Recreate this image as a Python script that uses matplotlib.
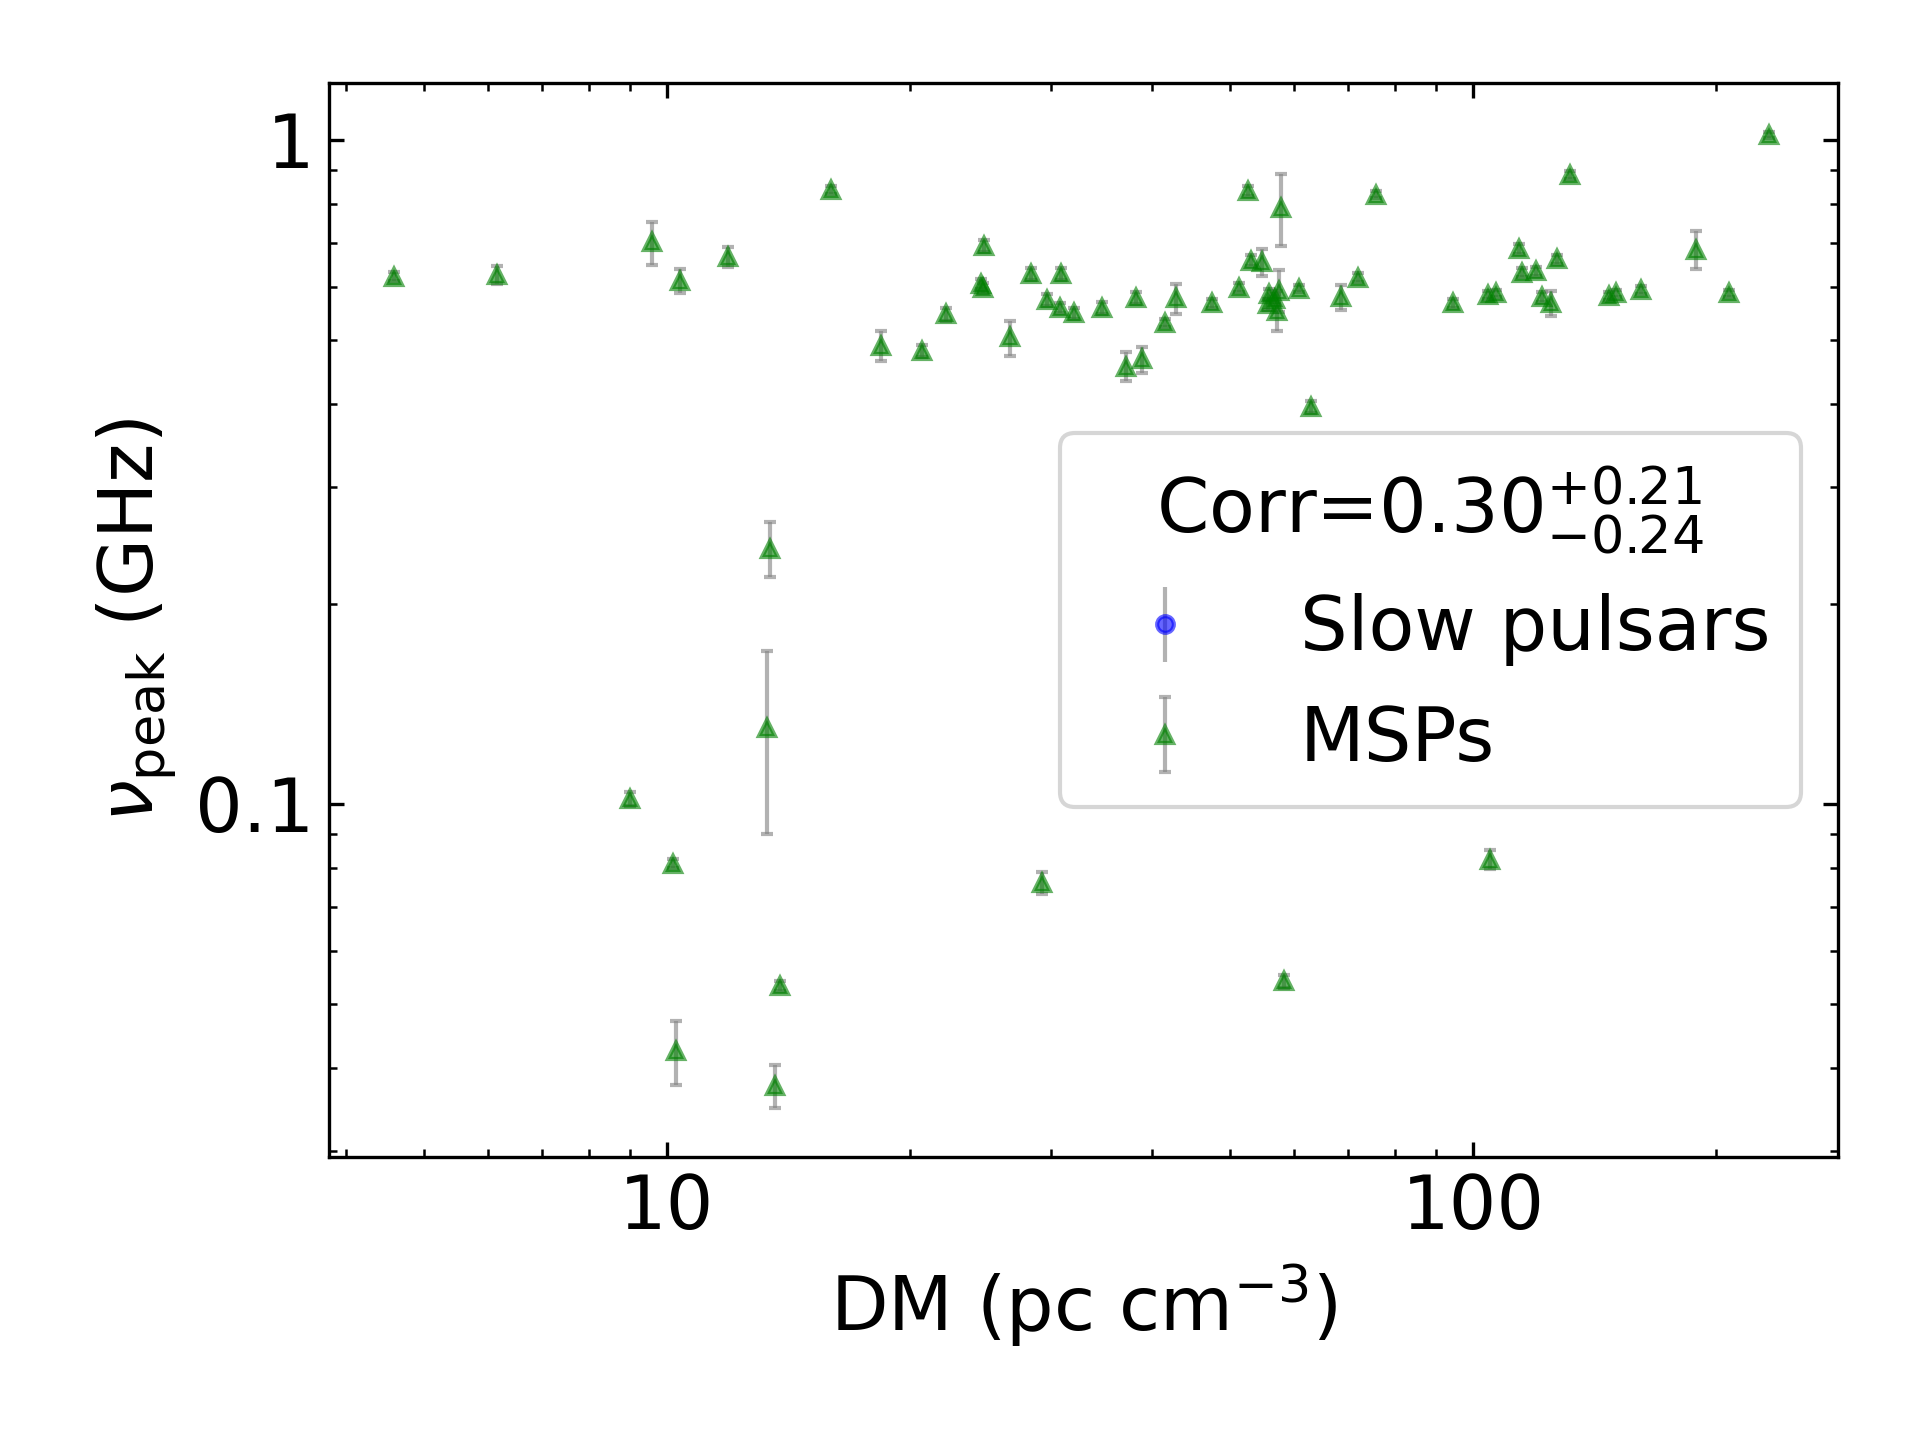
import numpy as np
import matplotlib
matplotlib.use("Agg")
import matplotlib.pyplot as plt
from matplotlib.ticker import FixedLocator, FixedFormatter, NullFormatter

# MSPs: DM (pc cm^-3), peak frequency (GHz) and asymmetric errors
dm_msp = [4.58, 6.15, 9.59, 10.39, 11.91, 15.98, 18.45, 20.71, 22.21, 24.50,
          24.70, 24.75, 26.64, 28.28, 29.60, 30.87, 30.75, 31.97, 34.64, 37.15,
          38.88, 38.20, 41.55, 42.88, 47.46, 51.26, 52.54, 53.09, 54.79, 55.87,
          57.43, 55.62, 56.77, 57.17, 57.74, 60.85, 63.02, 68.55, 71.97, 75.85,
          94.56, 104.3, 106.9, 114.2, 115.0, 119.9, 121.7, 125.1, 127.3, 131.9,
          147.5, 150.6, 161.6, 189.1, 207.8, 233.3,
          13.42, 13.32, 9.01, 10.18, 13.80, 10.25, 13.61, 29.18, 58.35, 105.0]
nu_msp = [0.622, 0.625, 0.701, 0.612, 0.666, 0.841, 0.489, 0.481, 0.546, 0.607,
          0.598, 0.692, 0.504, 0.628, 0.574, 0.628, 0.558, 0.548, 0.558, 0.455,
          0.467, 0.577, 0.530, 0.577, 0.567, 0.599, 0.837, 0.658, 0.655, 0.586,
          0.592, 0.565, 0.575, 0.552, 0.789, 0.597, 0.396, 0.579, 0.620, 0.827,
          0.567, 0.584, 0.587, 0.686, 0.631, 0.634, 0.580, 0.568, 0.661, 0.885,
          0.582, 0.587, 0.594, 0.683, 0.587, 1.017,
          0.242, 0.130, 0.1017, 0.0813, 0.0532, 0.0425, 0.0376, 0.0760, 0.0541, 0.0823]
err_lo = [0.010, 0.018, 0.054, 0.024, 0.022, 0.012, 0.025, 0.010, 0.012, 0.010,
          0.010, 0.014, 0.031, 0.013, 0.011, 0.013, 0.010, 0.010, 0.012, 0.022,
          0.021, 0.012, 0.008, 0.030, 0.008, 0.010, 0.015, 0.012, 0.031, 0.010,
          0.041, 0.010, 0.010, 0.037, 0.097, 0.008, 0.008, 0.025, 0.010, 0.010,
          0.008, 0.008, 0.008, 0.012, 0.010, 0.010, 0.010, 0.025, 0.010, 0.012,
          0.008, 0.008, 0.008, 0.044, 0.008, 0.012,
          0.022, 0.040, 0.0025, 0.0012, 0.0010, 0.0047, 0.0027, 0.0029, 0.0012, 0.0024]
err_hi = [0.010, 0.020, 0.052, 0.027, 0.023, 0.012, 0.027, 0.010, 0.012, 0.010,
          0.010, 0.014, 0.030, 0.013, 0.011, 0.013, 0.010, 0.010, 0.012, 0.025,
          0.021, 0.012, 0.008, 0.030, 0.008, 0.010, 0.015, 0.012, 0.030, 0.010,
          0.044, 0.010, 0.010, 0.040, 0.098, 0.008, 0.008, 0.025, 0.010, 0.010,
          0.008, 0.008, 0.008, 0.012, 0.010, 0.010, 0.010, 0.025, 0.010, 0.012,
          0.008, 0.008, 0.008, 0.045, 0.008, 0.012,
          0.024, 0.040, 0.0027, 0.0012, 0.0010, 0.0046, 0.0028, 0.0031, 0.0012, 0.0029]

# slow pulsars: none in this panel
dm_slow = []
nu_slow = []

fig = plt.figure(figsize=(6.4, 4.8), dpi=300)
ax = fig.add_axes([0.1714, 0.1965, 0.7859, 0.7459])

ax.errorbar(dm_slow, nu_slow, yerr=[[], []], fmt='o', color='blue', ms=4,
            ecolor='gray', elinewidth=1, capsize=0, alpha=0.6, label='Slow pulsars')
ax.errorbar(dm_msp, nu_msp, yerr=[err_lo, err_hi], fmt='^', color='green', ms=4,
            ecolor='gray', elinewidth=1, capsize=1.5, alpha=0.6, label='MSPs')

ax.set_xscale('log')
ax.set_yscale('log')
ax.set_xlim(3.81, 283.8)
ax.set_ylim(0.0294, 1.218)

ax.xaxis.set_major_locator(FixedLocator([10, 100]))
ax.xaxis.set_major_formatter(FixedFormatter(['10', '100']))
ax.yaxis.set_major_locator(FixedLocator([0.1, 1]))
ax.yaxis.set_major_formatter(FixedFormatter(['0.1', '1']))
ax.xaxis.set_minor_formatter(NullFormatter())
ax.yaxis.set_minor_formatter(NullFormatter())

ax.tick_params(which='both', direction='in', top=True, right=True, labelsize=18)
ax.set_xlabel(r'DM (pc cm$^{-3}$)', fontsize=18)
ax.set_ylabel(r'$\nu_{\rm peak}$ (GHz)', fontsize=18)

ax.legend(loc='center right', fontsize=18,
          title=r'Corr=$0.30^{+0.21}_{-0.24}$', title_fontsize=18)

fig.savefig('out.png', dpi=300)
